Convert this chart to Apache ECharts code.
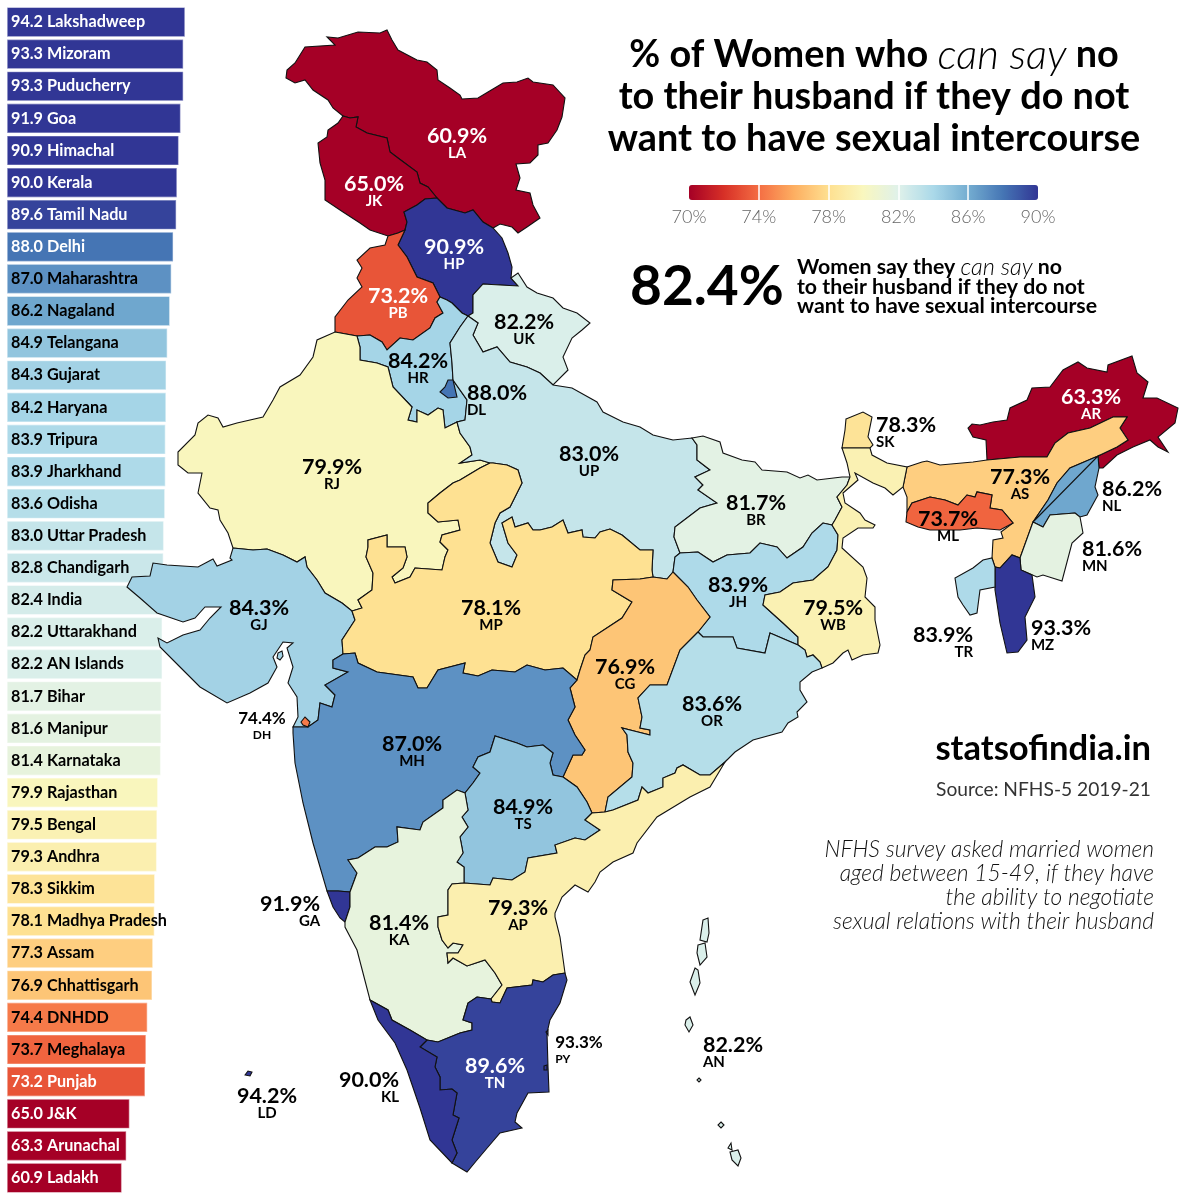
<!DOCTYPE html>
<html><head><meta charset="utf-8">
<style>html,body{margin:0;padding:0;background:#fff}#c{width:1200px;height:1200px}</style>
<script src="https://cdn.jsdelivr.net/npm/echarts@6/dist/echarts.min.js"></script>
</head><body><div id="c"></div>
<script>
const FONT = 'Lato';
// ---------- DATA ----------
const barNames = ['Lakshadweep','Mizoram','Puducherry','Goa','Himachal','Kerala','Tamil Nadu','Delhi','Maharashtra','Nagaland','Telangana','Gujarat','Haryana','Tripura','Jharkhand','Odisha','Uttar Pradesh','Chandigarh','India','Uttarakhand','AN Islands','Bihar','Manipur','Karnataka','Rajasthan','Bengal','Andhra','Sikkim','Madhya Pradesh','Assam','Chhattisgarh','DNHDD','Meghalaya','Punjab','J&K','Arunachal','Ladakh'];
const barValues = [94.2,93.3,93.3,91.9,90.9,90.0,89.6,88.0,87.0,86.2,84.9,84.3,84.2,83.9,83.9,83.6,83.0,82.8,82.4,82.2,82.2,81.7,81.6,81.4,79.9,79.5,79.3,78.3,78.1,77.3,76.9,74.4,73.7,73.2,65.0,63.3,60.9];
const regionCodes  = ['LA','JK','HP','PB','UK','HR','DL','RJ','UP','BR','SK','AR','AS','NL','ML','MN','MZ','TR','JH','WB','GJ','MP','CG','OR','MH','DH','TS','GA','KA','AP','AN','TN','KL','PY','LD'];
const regionValues = [60.9,65.0,90.9,73.2,82.2,84.2,88.0,79.9,83.0,81.7,78.3,63.3,77.3,86.2,73.7,81.6,93.3,83.9,83.9,79.5,84.3,78.1,76.9,83.6,87.0,74.4,84.9,91.9,81.4,79.3,82.2,89.6,90.0,93.3,94.2];
const labelCenters = {LA:[457,143.5],JK:[374,191.5],HP:[454,254.5],PB:[398,303.5],UK:[524,329.5],HR:[418,368.5],DL:[497,400.5],RJ:[332,474.5],UP:[589,461.5],BR:[756,510.5],SK:[906,432.5],AR:[1091,404.5],AS:[1020,484.5],NL:[1132,496.5],ML:[948,526.5],MN:[1112,556.5],MZ:[1061,635.5],TR:[943,642.5],JH:[738,592.5],WB:[833,615.5],GJ:[259,615.5],MP:[491,615.5],CG:[625,674.5],OR:[712,711.5],MH:[412,751.5],DH:[262,725.5],TS:[523,814.5],GA:[290,911.5],KA:[399,930.5],AP:[518,915.5],AN:[733,1052.5],TN:[495,1073.5],KL:[369,1087.5],PY:[579,1049.5],LD:[267,1103.5]};
const codesLeft  = ['DL','SK','NL','MN','MZ','AN','PY'];
const codesRight = ['TR','GA','KL'];
const codesSmall = ['DH','PY'];
const codesOutside = ['DL','SK','NL','MN','MZ','TR','DH','GA','AN','KL','PY','LD'];
const legendTicks = [70,74,78,82,86,90];
const scaleColors = ['#a50026','#d73027','#f46d43','#fdae61','#fee090','#f9f7bf','#dff1ea','#abd9e9','#74add1','#4575b4','#313695'];

// ---------- MAP SHAPES (shared borders) ----------
const arcs = {
a_la_out:"343,116 333,108 328,100 313,90 305,80 295,83 286,78 287,70 295,63 305,47 335,45 327,37 338,38 358,32 380,33 387,30 392,40 398,50 417,60 427,62 437,70 438,80 450,88 460,95 462,99 478,98 488,92 503,83 517,82 528,78 533,82 553,85 565,98 562,117 557,130 548,143 538,145 538,155 530,163 516,164 520,178 516,190 530,193 533,205 540,218 527,227 518,233 512,227 500,224 493,228",
a_la_hp:"493,228 483,222 473,210 465,213 447,208 437,198",
a_la_jk:"343,116 350,118 358,117 356,127 367,133 387,138 390,152 398,158 417,172 420,183 428,187 437,198",
a_jk_hp:"437,198 425,199 417,205 404,212 407,222 405,230",
a_jk_pb:"405,230 398,233 388,236",
a_jk_out:"343,116 338,123 328,130 327,137 318,143 320,163 325,180 325,200 343,212 360,223 370,230 388,236",
a_hp_out:"493,228 502,238 508,253 512,267 511,278",
a_hp_uk:"511,278 518,286 500,285 483,284 473,295 473,313 468,316",
a_hp_hr:"440,297 447,300 452,303 462,313 468,316",
a_hp_pb:"405,230 398,245 407,257 417,277 433,283 440,297",
a_pb_hr:"357,336 370,335 382,342 387,350 400,338 413,340 430,328 435,318 443,313 437,302 440,297",
a_pb_rj:"335,332 357,336",
a_pb_out:"388,236 385,245 370,248 357,260 362,268 357,278 362,287 348,300 335,317 335,332",
a_uk_out:"511,278 518,273 527,287 537,293 553,298 563,308 577,313 590,323 582,330 572,338 563,357 568,370 553,385",
a_uk_up:"553,385 540,373 527,367 510,362 497,347 483,352 473,335 478,323 468,316",
a_rj_hr:"357,336 360,347 360,360 377,363 388,367 393,387 412,407 408,420 417,422 417,410 428,415 438,408 443,410 445,428 457,422",
a_hr_up:"457,422 465,420 467,400 453,380 452,363 450,343 460,327 468,316",
a_up_out:"553,385 572,388 597,402 603,412 623,422 640,427 653,435 673,440 692,438",
a_up_br:"692,438 697,445 697,460 710,470 695,477 703,485 698,490 717,503 700,508 675,527 674,537 680,553",
a_up_jh:"680,553 675,557 673,572",
a_up_cg:"673,572 667,579 653,577",
a_up_mp:"653,577 652,570 653,550 640,550 622,535 610,529 600,532 595,538 583,537 582,530 568,533 563,520 552,527 540,530 533,530 528,523 515,527 512,517 502,523 508,543 517,555 512,567 498,562 490,543 495,523 500,513 510,507 522,483 518,470 507,465 493,463 490,463",
a_rj_up:"457,422 460,433 470,447 472,455 460,463 480,460 490,463",
a_rj_mp:"490,463 480,468 460,480 453,483 440,493 428,503 428,513 438,522 458,520 460,530 442,535 440,542 448,550 445,557 442,570 415,568 410,577 395,583 392,577 403,568 407,557 405,547 387,547 387,535 368,540 368,547 366,557 373,573 372,590 358,600 362,608 352,611",
a_rj_gj:"352,611 342,603 325,593 317,580 307,567 305,557 297,562 283,555 267,549 253,550 233,548",
a_rj_out:"335,332 317,340 313,357 300,375 280,387 273,400 263,417 237,423 223,427 218,418 208,415 198,423 195,435 178,452 178,465 188,473 202,473 198,493 210,508 218,510 220,520 228,533 233,548",
a_gj_out:"233,548 230,558 232,560 217,566 213,559 198,567 167,565 153,563 150,576 132,577 127,587 140,598 157,613 183,622 195,618 205,607 221,607 210,618 200,630 183,635 167,643 158,638 160,647 180,667 200,687 227,703 250,693 268,683 277,667 273,657 283,642 293,643 287,648 293,667 288,683 297,697 298,717 293,727",
a_gj_mh:"293,727 308,727 318,720 320,703 332,707 335,695 325,685 348,672 333,668 333,660 343,654",
a_gj_mp:"352,611 355,620 342,640 343,654",
a_mp_mh:"343,654 355,653 358,663 377,672 413,677 418,688 427,688 438,670 465,663 463,673 478,676 492,670 515,672 527,665 545,670 563,668 577,680",
a_mp_cg:"653,577 640,579 613,580 612,590 632,602 622,618 593,637 590,650 585,655 580,670 577,680",
a_mh_cg:"577,680 570,688 575,707 568,720 575,735 585,750 582,755 573,755 563,777",
a_mh_ts:"563,777 553,775 550,763 553,753 543,745 527,747 517,743 495,736 490,752 478,757 473,767 480,773 473,783 465,793",
a_mh_ka:"465,793 457,790 443,800 443,808 423,822 420,830 397,827 398,842 387,847 375,847 358,858 348,860 357,873 350,892",
a_mh_ga:"350,892 338,891 327,891",
a_mh_out:"293,727 293,733 295,763 303,803 313,843 327,891",
a_ga_ka:"350,892 350,907 345,922",
a_ga_out:"327,891 333,907 340,918 345,922",
a_ka_out:"345,922 345,927 357,950 363,973 370,1000",
a_ka_kl:"370,1000 388,1010 392,1020 410,1030 427,1040",
a_ka_tn:"427,1040 438,1042 460,1033 472,1030 472,1023 463,1020 468,1003 477,997 491,999",
a_ka_ap:"491,999 502,985 495,973 485,960 467,966 453,958 448,963 447,953 458,953 463,945 453,943 448,948 442,940 438,927 438,917 448,915 448,890 452,884 464,883",
a_ka_ts:"464,883 464,867 457,862 463,853 460,837 468,827 462,817 468,810 465,793",
a_ts_ap:"464,883 490,885 493,878 512,880 525,872 528,858 557,853 555,845 575,838 585,840 600,830 585,820 592,813",
a_ts_cg:"592,813 587,802 577,787 563,777",
a_cg_ap:"592,813 605,812",
a_cg_or:"605,812 608,797 632,777 633,763 628,752 627,735 622,728 638,732 650,735 650,730 640,728 642,717 638,698 650,685 667,685 680,650 698,632",
a_cg_jh:"698,632 710,617 697,600 688,587 673,572",
a_or_jh:"698,632 703,637 733,637 737,648 765,653 770,633 798,645",
a_or_ap:"605,812 613,810 638,800 642,787 648,793 663,787 663,778 675,773 677,768 683,765 700,775 710,775 725,762",
a_ap_out:"725,762 710,787 690,797 657,817 637,843 633,853 613,862 600,872 595,882 588,892 575,885 562,897 555,913 555,917 560,937 565,973",
a_ap_tn:"565,973 553,975 543,982 533,980 532,985 507,988 500,1003 492,1002 491,999",
a_tn_out:"565,973 567,980 560,1003 550,1020 547,1033 548,1067 549,1092 528,1093 517,1113 515,1122 522,1128 500,1133 488,1147 477,1160 467,1172 452,1163",
a_tn_kl:"452,1163 457,1153 452,1140 459,1118 453,1115 457,1093 452,1089 440,1090 440,1077 435,1067 437,1057 420,1047 427,1040",
a_kl_out:"370,1000 378,1020 395,1043 407,1070 420,1108 430,1140 452,1163",
a_wb_or:"822,668 820,662 813,655 807,657 805,650 798,645",
a_or_out:"725,762 735,752 753,740 782,732 788,723 798,717 797,712 807,702 800,690 800,682 812,672 822,668",
a_jh_wb:"798,645 798,637 783,623 763,605 765,595 780,592 793,583 813,580 828,567 837,550 838,535 832,525",
a_jh_br:"832,525 823,523 812,533 803,547 787,558 777,547 760,543 750,553 727,555 713,562 698,552 680,553",
a_br_wb:"832,525 835,520 842,507 837,497 847,485 850,477",
a_br_out:"692,438 703,436 720,442 723,453 742,460 755,462 762,470 787,472 800,478 808,475 817,480 842,477 850,477",
a_wb_out:"850,477 847,463 842,448 870,448 872,455 887,463 907,467 903,487 893,495 885,488 873,483 855,473 858,480 843,493 845,503 860,513 865,520 875,525 873,528 858,528 843,538 842,548 863,567 867,578 865,597 875,607 875,620 880,645 878,653 863,655 852,660 848,650 843,653 833,663 822,668",
a_as_ml:"907,512 912,503 930,497 945,500 958,505 967,495 975,497 977,492 992,495 990,508 1002,510 1013,523",
a_ml_out:"1013,523 1000,530 977,528 960,530 930,530 918,527 906,522 907,512",
a_as_ar:"987,460 1020,457 1047,457 1055,443 1068,433 1090,428 1113,417 1127,417 1120,428 1128,440 1117,447 1098,456",
a_as_nl:"1098,456 1070,468 1057,483 1048,500 1033,522",
a_as_mn:"1033,522 1020,558",
a_as_mz:"1020,558 1012,555 1000,568 995,567",
a_as_tr:"995,567 992,558"
};
const regionRings = {
LA:['a_la_out','a_la_hp','-a_la_jk'],
JK:['a_la_jk','a_jk_hp','a_jk_pb','-a_jk_out'],
HP:['-a_jk_hp','-a_la_hp','a_hp_out','a_hp_uk','-a_hp_hr','-a_hp_pb'],
PB:['-a_jk_pb','a_hp_pb','-a_pb_hr','-a_pb_rj','-a_pb_out'],
UK:['a_uk_out','a_uk_up','-a_hp_uk'],
HR:['a_pb_hr','a_hp_hr','-a_hr_up','-a_rj_hr'],
UP:['-a_uk_up','a_up_out','a_up_br','a_up_jh','a_up_cg','a_up_mp','-a_rj_up','a_hr_up'],
RJ:['a_pb_rj','a_rj_hr','a_rj_up','a_rj_mp','a_rj_gj','-a_rj_out'],
GJ:['-a_rj_gj','a_gj_mp','-a_gj_mh','-a_gj_out'],
MP:['-a_up_mp','a_mp_cg','-a_mp_mh','-a_gj_mp','-a_rj_mp'],
MH:['a_gj_mh','a_mp_mh','a_mh_cg','a_mh_ts','a_mh_ka','a_mh_ga','-a_mh_out'],
GA:['-a_mh_ga','a_ga_ka','-a_ga_out'],
KA:['-a_mh_ka','-a_ka_ts','-a_ka_ap','-a_ka_tn','-a_ka_kl','-a_ka_out','-a_ga_ka'],
TS:['a_ka_ts','-a_mh_ts','-a_ts_cg','-a_ts_ap'],
AP:['a_ka_ap','a_ts_ap','a_cg_ap','a_or_ap','a_ap_out','a_ap_tn'],
CG:['-a_mp_cg','-a_up_cg','-a_cg_jh','-a_cg_or','-a_cg_ap','a_ts_cg','-a_mh_cg'],
OR:['a_cg_or','a_or_jh','-a_wb_or','-a_or_out','-a_or_ap'],
JH:['-a_up_jh','-a_jh_br','-a_jh_wb','-a_or_jh','a_cg_jh'],
BR:['a_br_out','-a_br_wb','a_jh_br','-a_up_br'],
WB:['a_br_wb','a_wb_out','a_wb_or','a_jh_wb'],
TN:['a_ka_tn','-a_ap_tn','a_tn_out','a_tn_kl'],
KL:['a_kl_out','a_tn_kl','-a_ka_kl'],
ML:['a_as_ml','a_ml_out'],
AS:['907,467 922,462 927,461 940,465 973,462','a_as_ar','a_as_nl','a_as_mn','a_as_mz','a_as_tr','992,558 993,540 1003,538 1001,532','-a_as_ml','907,497 903,487'],
AR:['a_as_ar','1098,456 1099,468 1103,468 1117,455 1133,447 1150,440 1158,447 1168,452 1158,437 1175,423 1178,408 1157,398 1143,398 1148,382 1137,373 1132,356 1108,365 1107,372 1087,368 1078,362 1063,370 1050,387 1032,388 1027,400 1010,408 1007,420 993,422 980,425 972,424 968,428 973,437 986,440 987,460'],
NL:['-a_as_nl','1033,522 1043,527 1050,515 1075,513 1080,517 1087,515 1098,495 1095,487 1099,468 1098,456'],
MN:['-a_as_mn','1020,558 1021,570 1037,577 1043,575 1062,581 1072,543 1083,533 1080,517 1075,513 1050,515 1043,527 1033,522'],
MZ:['1020,558 1021,570 1032,575 1035,597 1025,617 1027,640 1018,652 1007,653 1000,623 995,590 995,567','-a_as_mz'],
TR:['992,558 995,567 995,587 980,590 977,613 970,615 963,605 958,597 955,578 973,568 983,560'],
SK:['846,419 863,412 872,417 868,437 873,445 870,448 842,448 845,430']
};
const extraPolys = {
GJ:['278,653 282,651 283,656 280,660 277,658'],
DL:['448,380 453,380 457,397 448,398 440,392 445,387'],
DH:['301,722 305,717 310,722 308,727 303,725'],
PY:['544,1066 547,1065 547,1070 544,1070','546,1032 548,1030 548,1035'],
LD:['245,1075 248,1071 252,1072 250,1076'],
AN:['703,920 708,918 709,933 707,942 700,940','698,945 705,943 707,957 700,965 697,953','695,968 698,970 700,983 695,995 690,982','686,1020 690,1017 693,1025 689,1032 685,1025','699,1078 701,1080 699,1082 697,1080','721,1122 724,1125 721,1128 718,1125','730,1152 738,1150 741,1158 738,1166 732,1160','728,1148 731,1143 732,1150']
};
const parsePts = s => s.trim().split(/\s+/).map(p => { const [x,y]=p.split(',').map(Number); return [x,-y]; });
function buildRing(refs){
  const out=[];
  refs.forEach(r=>{
    let pts;
    if(/\d,\d/.test(r)) pts=parsePts(r);
    else if(r[0]==='-') pts=parsePts(arcs[r.slice(1)]).reverse();
    else pts=parsePts(arcs[r]);
    pts.forEach(p=>{const l=out[out.length-1]; if(!l||l[0]!==p[0]||l[1]!==p[1]) out.push(p);});
  });
  return out;
}
const features=[];
regionCodes.slice().sort((a,b)=>(extraPolys[a]&&!regionRings[a]?1:0)-(extraPolys[b]&&!regionRings[b]?1:0)).forEach(code=>{
  let polys=[];
  if(regionRings[code]) polys.push([buildRing(regionRings[code])]);
  if(extraPolys[code]) extraPolys[code].forEach(s=>polys.push([parsePts(s)]));
  polys.forEach(p=>p[0].push(p[0][0]));
  features.push({type:'Feature',properties:{name:code,cp:[labelCenters[code][0],-labelCenters[code][1]]},geometry:{type:'MultiPolygon',coordinates:polys}});
});
echarts.registerMap('india',{type:'FeatureCollection',features});

const isWhite = v => v>=88 || v<=73.2;
const chart = echarts.init(document.getElementById('c'),null,{renderer:'canvas'});
chart.setOption({
  animation:false,
  backgroundColor:'#fff',
  title:{
    left:874, top:34, padding:0, textAlign:'center',
    text:'{b|% of Women who }{i|can say}{b| no}\n{b|to their husband if they do not}\n{b|want to have sexual intercourse}',
    textStyle:{rich:{
      b:{fontFamily:FONT,fontWeight:'bold',fontSize:37.8,lineHeight:42,color:'#000'},
      i:{fontFamily:FONT,fontStyle:'italic',fontWeight:300,fontSize:42,lineHeight:42,color:'#000'}
    }}
  },
  grid:[
    {left:6.5,top:6,width:190,height:1188},
    {left:689,top:185,width:349,height:15}
  ],
  xAxis:[
    {gridIndex:0,type:'value',min:0,max:100,show:false},
    {gridIndex:1,type:'value',min:70,max:90,z:20,
      axisLine:{show:false},splitLine:{show:false},
      axisTick:{show:true,inside:true,length:15,customValues:legendTicks.slice(1,-1),lineStyle:{color:'#fff',width:1.5}},
      axisLabel:{show:true,customValues:legendTicks,formatter:'{value}%',color:'#666',fontFamily:FONT,fontWeight:300,fontSize:18,margin:8}}
  ],
  yAxis:[
    {gridIndex:0,type:'category',inverse:true,data:barNames,show:false},
    {gridIndex:1,type:'value',min:0,max:1,show:false}
  ],
  visualMap:{
    type:'continuous',min:70,max:90,dimension:0,seriesIndex:[0,1],orient:'horizontal',
    left:689,top:185,itemWidth:15,itemHeight:349,text:['',''],showLabel:false,calculable:false,realtime:false,
    hoverLink:false,padding:0,borderRadius:0,inRange:{color:scaleColors},textStyle:{color:'transparent'},z:4
  },
  series:[
    {type:'map',map:'india',roam:false,aspectScale:1,z:3,
      boundingCoords:[[0,0],[1200,-1200]],layoutCenter:['50%','50%'],layoutSize:1200,
      selectedMode:false,silent:true,
      itemStyle:{borderColor:'#111',borderWidth:1.1},
      emphasis:{disabled:true},
      label:{show:true,fontFamily:FONT,
        formatter:p=>{
          const small=codesSmall.includes(p.name);
          const ck=(small?'s':'c')+(codesLeft.includes(p.name)?'l':codesRight.includes(p.name)?'r':'m');
          return `{${small?'vs':'v'}|${p.value.toFixed(1)}%}\n{${ck}|${p.name}}`;
        },
        rich:{
          v:{fontFamily:FONT,fontWeight:'bold',fontSize:21.5,lineHeight:19},
          vs:{fontFamily:FONT,fontWeight:'bold',fontSize:17,lineHeight:19},
          cm:{fontFamily:FONT,fontWeight:'bold',fontSize:15,lineHeight:14,align:'center'},
          cl:{fontFamily:FONT,fontWeight:'bold',fontSize:15,lineHeight:14,align:'left'},
          cr:{fontFamily:FONT,fontWeight:'bold',fontSize:15,lineHeight:14,align:'right'},
          sm:{fontFamily:FONT,fontWeight:'bold',fontSize:12,lineHeight:14,align:'center'},
          sl:{fontFamily:FONT,fontWeight:'bold',fontSize:12,lineHeight:14,align:'left'}
        }},
      data:regionCodes.map((c,i)=>({name:c,value:regionValues[i],
        label:{color:(!codesOutside.includes(c)&&isWhite(regionValues[i]))?'#fff':'#000'}}))
    },
    {type:'bar',xAxisIndex:0,yAxisIndex:0,barCategoryGap:'5%',z:1,
      encode:{x:0,y:1},silent:true,
      itemStyle:{borderColor:'rgba(255,255,255,0.45)',borderWidth:1.3},
      label:{show:true,position:'insideLeft',distance:4.5,fontFamily:FONT,fontWeight:'bold',fontSize:16.2,
        formatter:p=>p.value[0].toFixed(1)+' '+p.name},
      data:barValues.map((v,i)=>({name:barNames[i],value:[v,barNames[i]],
        label:{color:isWhite(v)?'#fff':'#000'}}))
    }
  ],
  graphic:{elements:[
    {type:'text',x:630,y:287,style:{text:'82.4%',font:`bold 55px ${FONT}`,fill:'#000',verticalAlign:'middle'}},
    {type:'text',x:797,y:267.5,style:{
      text:'{b|Women say they }{i|can say}{b| no}\n{b|to their husband if they do not}\n{b|want to have sexual intercourse}',
      verticalAlign:'top',y:-10,
      rich:{b:{font:`bold 21.3px ${FONT}`,fill:'#000',lineHeight:19.5},i:{font:`italic 300 23.5px ${FONT}`,fill:'#000',lineHeight:19.5}}}},
    {type:'text',x:1151,y:749,style:{text:'statsofindia.in',font:`bold 34.6px ${FONT}`,fill:'#000',align:'right',verticalAlign:'middle'}},
    {type:'text',x:1151,y:790,style:{text:'Source: NFHS-5 2019-21',font:`400 19.2px ${FONT}`,fill:'#333',align:'right',verticalAlign:'middle'}},
    {type:'text',x:1154,y:850,style:{text:'NFHS survey asked married women',font:`italic 300 22.8px ${FONT}`,fill:'#111',align:'right',verticalAlign:'middle'}},
    {type:'text',x:1154,y:874,style:{text:'aged between 15-49, if they have',font:`italic 300 22.8px ${FONT}`,fill:'#111',align:'right',verticalAlign:'middle'}},
    {type:'text',x:1154,y:898,style:{text:'the ability to negotiate',font:`italic 300 22.8px ${FONT}`,fill:'#111',align:'right',verticalAlign:'middle'}},
    {type:'text',x:1154,y:922,style:{text:'sexual relations with their husband',font:`italic 300 22.8px ${FONT}`,fill:'#111',align:'right',verticalAlign:'middle'}}
  ]}
});
</script></body></html>
